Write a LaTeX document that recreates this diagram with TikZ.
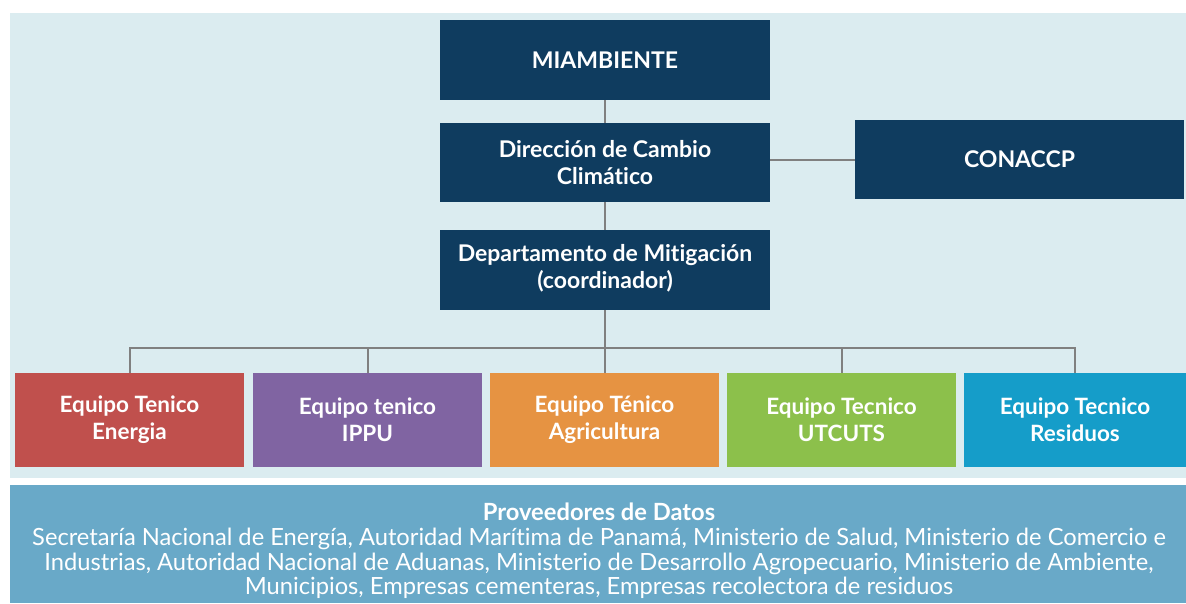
\documentclass[tikz,border=0pt]{standalone}
\usepackage{fontspec}
\setmainfont[Ligatures={NoCommon}]{Lato}
\definecolor{navy}{HTML}{0F3C5F}
\definecolor{redbox}{HTML}{C0504D}
\definecolor{purplebox}{HTML}{8064A2}
\definecolor{orangebox}{HTML}{E69342}
\definecolor{greenbox}{HTML}{8CC04B}
\definecolor{bluebox}{HTML}{159DC9}
\definecolor{lightbg}{HTML}{DBECF0}
\definecolor{bottombg}{HTML}{69A9C8}
\definecolor{linegray}{HTML}{808080}
\begin{document}
\begin{tikzpicture}[x=1pt,y=-1pt,
  orgbox/.style={fill=navy, text=white, font=\fontsize{23}{27}\selectfont\bfseries, align=center, minimum width=330pt, minimum height=80pt, inner sep=0pt},
  teambox/.style={text=white, font=\fontsize{22.5}{27}\selectfont\bfseries, align=center, minimum width=229pt, minimum height=94pt, inner sep=0pt},
  link/.style={draw=linegray, line width=2pt}
]
\useasboundingbox (0,0) rectangle (1186,603);
\fill[lightbg] (10,13) rectangle (1186,478);
\fill[bottombg] (10,485) rectangle (1186,603);

\node[orgbox] (mia) at (605,60) {MIAMBIENTE};
\node[orgbox, minimum height=79pt] (dir) at (605,162.5) {Dirección de Cambio\\Climático};
\node[orgbox] (dep) at (605,270) {\raisebox{8pt}{\begin{tabular}{@{}c@{}}Departamento de Mitigación\\(coordinador)\end{tabular}}};
\node[orgbox, minimum width=329pt, minimum height=79pt] (con) at (1019.5,159.5) {CONACCP};

\node[teambox, fill=redbox] (e1) at (129.5,420) {Equipo Tenico\\Energia};
\node[teambox, fill=purplebox] (e2) at (367.5,420) {Equipo tenico\\IPPU};
\node[teambox, fill=orangebox] (e3) at (604.5,420) {Equipo Ténico\\Agricultura};
\node[teambox, fill=greenbox] (e4) at (841.5,420) {Equipo Tecnico\\UTCUTS};
\node[teambox, fill=bluebox, minimum width=222pt] (e5) at (1075,420) {Equipo Tecnico\\Residuos};

\coordinate (bus) at (608,348);
\draw[link] (mia.south) -- (dir.north);
\draw[link] (dir.south) -- (dep.north);
\draw[link] (con.west -| dir.east) -- (con.west);
\draw[link] (dep.south) -- (dep.south |- bus);
\draw[link] (e1.north) -- (e1.north |- bus) -- (e5.north |- bus) -- (e5.north);
\draw[link] (e2.north) -- (e2.north |- bus);
\draw[link] (e3.north) -- (e3.north |- bus);
\draw[link] (e4.north) -- (e4.north |- bus);

\node[text=white, align=center, font=\fontsize{23.7}{24.7}\selectfont, inner sep=0pt] (prov) at (599,551)
  {{\bfseries Proveedores de Datos}\\
   Secretaría Nacional de Energía, Autoridad Marítima de Panamá, Ministerio de Salud, Ministerio de Comercio e\\
   Industrias, Autoridad Nacional de Aduanas, Ministerio de Desarrollo Agropecuario, Ministerio de Ambiente,\\
   Municipios, Empresas cementeras, Empresas recolectora de residuos};
\end{tikzpicture}
\end{document}
